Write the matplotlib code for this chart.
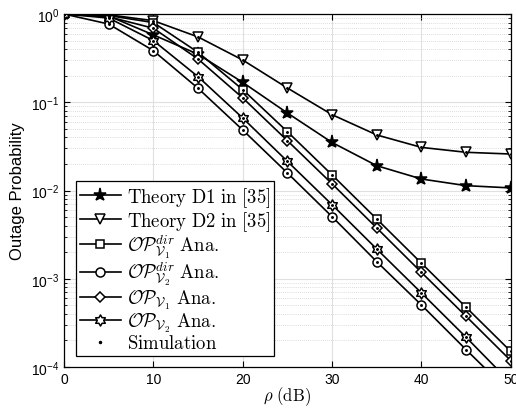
import numpy as np
import matplotlib
matplotlib.use("Agg")
import matplotlib.pyplot as plt
from matplotlib.path import Path
from matplotlib.font_manager import FontProperties
from matplotlib.ticker import LogLocator, FixedLocator

plt.rcParams['font.family'] = ['Liberation Sans', 'DejaVu Sans']
plt.rcParams['mathtext.fontset'] = 'custom'
plt.rcParams['mathtext.rm'] = 'Liberation Sans'
plt.rcParams['mathtext.it'] = 'Liberation Sans:italic'
plt.rcParams['mathtext.bf'] = 'Liberation Sans:bold'

# ---------------- data ----------------
rho_db = [0, 5, 10, 15, 20, 25, 30, 35, 40, 45, 50]
theory_d1 = [1.0, 0.95, 0.58, 0.35, 0.168, 0.0755, 0.035, 0.0191, 0.0135, 0.01135, 0.0107]
theory_d2 = [1.0, 0.98, 0.84, 0.55, 0.301, 0.145, 0.0723, 0.0426, 0.0308, 0.0271, 0.0259]
op_v1_dir = [1.0, 0.96, 0.80, 0.368, 0.139, 0.0464, 0.015, 0.00475, 0.0015, 0.000474, 0.00015]
op_v2_dir = [1.0, 0.77, 0.384, 0.144, 0.0485, 0.0158, 0.00505, 0.00156, 0.000504, 0.000157, 0.00005]
op_v1 = [1.0, 0.93, 0.69, 0.309, 0.112, 0.0367, 0.0119, 0.00376, 0.00118, 0.000375, 0.000118]
op_v2 = [1.0, 0.90, 0.50, 0.195, 0.0663, 0.0214, 0.0069, 0.00217, 0.00069, 0.000217, 0.000066]

labels = [r'$\mathrm{Theory\ D1\ in\ [35]}$',
          r'$\mathrm{Theory\ D2\ in\ [35]}$',
          r'$\mathcal{OP}_{\mathcal{V}_1}^{dir}\ \mathrm{Ana.}$',
          r'$\mathcal{OP}_{\mathcal{V}_2}^{dir}\ \mathrm{Ana.}$',
          r'$\mathcal{OP}_{\mathcal{V}_1}\ \mathrm{Ana.}$',
          r'$\mathcal{OP}_{\mathcal{V}_2}\ \mathrm{Ana.}$',
          r'$\mathrm{Simulation}$']
x_ticks = [0, 10, 20, 30, 40, 50]

# hexagram marker
ang = np.pi / 2 + np.arange(12) * np.pi / 6
rad = np.where(np.arange(12) % 2 == 0, 1.0, 1.0 / np.sqrt(3))
hex_verts = np.column_stack([rad * np.cos(ang), rad * np.sin(ang)])
hex_verts = np.vstack([hex_verts, hex_verts[:1]])
hexagram = Path(hex_verts, closed=True)

fig = plt.figure(figsize=(5.16, 4.10), dpi=100)
ax = fig.add_axes([0.124, 0.1024, 0.866, 0.861])

series = [
    (theory_d1, dict(marker='*', ms=9.5, mfc='k')),
    (theory_d2, dict(marker='v', ms=7, mfc='w')),
    (op_v1_dir, dict(marker='s', ms=6, mfc='w')),
    (op_v2_dir, dict(marker='o', ms=6.5, mfc='w')),
    (op_v1, dict(marker='D', ms=5.5, mfc='w')),
    (op_v2, dict(marker=hexagram, ms=8, mfc='w')),
]
handles = []
for (vals, st), lab in zip(series, labels[:6]):
    h, = ax.plot(rho_db, vals, color='k', lw=1.2, mec='k', mew=1.1, label=lab, **st)
    handles.append(h)
for vals, _ in series:
    ax.plot(rho_db, vals, ls='none', marker='.', ms=2.2, color='k', zorder=5)
hs, = ax.plot([], [], ls='none', marker='.', ms=3, color='k', label=labels[6])
handles.append(hs)

ax.set_yscale('log')
ax.set_xlim(0, 50)
ax.set_ylim(1e-4, 1)
ax.xaxis.set_major_locator(FixedLocator(x_ticks))
ax.yaxis.set_major_locator(LogLocator(base=10, numticks=10))
ax.yaxis.set_minor_locator(LogLocator(base=10, subs=np.arange(2, 10), numticks=10))
ax.tick_params(which='both', direction='in', top=True, right=True, labelsize=10)
ax.tick_params(which='major', length=4)
ax.tick_params(which='minor', length=2)
ax.grid(True, which='major', color='#e0e0e0', lw=0.8, ls='-')
ax.grid(True, which='minor', axis='y', color='#d0d0d0', lw=0.6, ls=(0, (1, 1.5)))
ax.set_axisbelow(True)
for s in ax.spines.values():
    s.set_linewidth(0.9)

ax.set_ylabel('Outage Probability', fontsize=12)
ax.set_xlabel(r'$\rho\ \mathrm{(dB)}$',
              fontproperties=FontProperties(size=12, math_fontfamily='cm'), labelpad=-1)

leg = ax.legend(handles=handles, loc='lower left', bbox_to_anchor=(0.027, 0.031),
                borderaxespad=0, prop=FontProperties(size=13.5, math_fontfamily='cm'),
                fancybox=False, framealpha=1, edgecolor='k', handlelength=2.2,
                handletextpad=0.3, labelspacing=0.0, borderpad=0.2)
leg.get_frame().set_linewidth(0.9)

fig.savefig('out.png', dpi=100)
